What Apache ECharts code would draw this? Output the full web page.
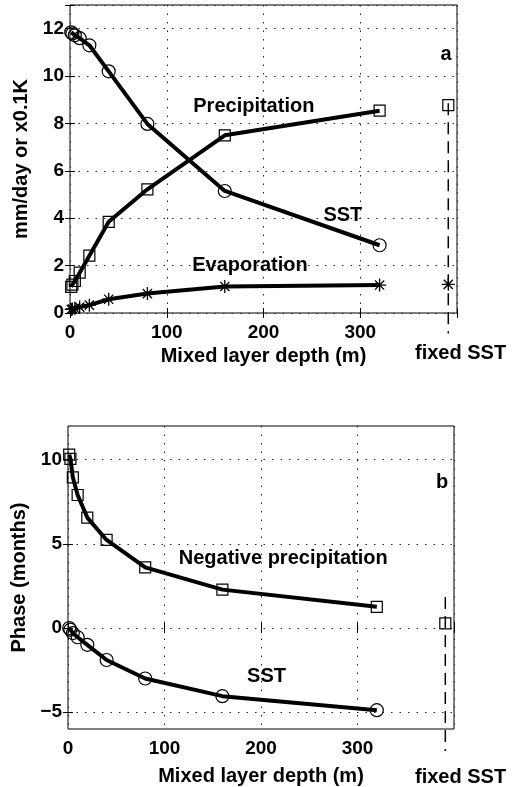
<!DOCTYPE html>
<html><head><meta charset="utf-8">
<script src="https://cdn.jsdelivr.net/npm/echarts@6/dist/echarts.min.js"></script>
<style>html,body{margin:0;padding:0;background:#fff}#c{width:512px;height:787px}</style>
</head><body><div id="c"></div>
<script>
// ---- data ----
const depth = [1.25, 2.5, 5, 10, 20, 40, 80, 160, 320];
const sstAmp = [11.85, 11.8, 11.72, 11.6, 11.3, 10.2, 7.98, 5.15, 2.86];
const precipAmp = [1.1, 1.2, 1.35, 1.7, 2.42, 3.85, 5.22, 7.5, 8.54];
const evapAmp = [0.15, 0.17, 0.2, 0.25, 0.33, 0.58, 0.82, 1.12, 1.18];
const negPrecipPhase = [10.3, 10.05, 8.95, 7.9, 6.56, 5.23, 3.6, 2.28, 1.26];
const sstPhase = [0.0, -0.1, -0.3, -0.55, -1.0, -1.9, -3.0, -4.05, -4.88];
const fixedDepth = 391;
const fixedPrecipAmp = 8.77;
const fixedEvapAmp = 1.21;
const fixedNegPrecipPhase = 0.28;
const fixedLineA = [8.85, -0.86];
const fixedLineB = [1.84, -7.3];
const xTickLabels = [0, 100, 200, 300];
const yTicksB = [-5, 0, 5, 10];
const annotationsA = [[190, 8.7, 'Precipitation'], [282, 4.13, 'SST'], [186, 2.02, 'Evaporation'], [388.6, 10.9, 'a']];
const annotationsB = [[223, 4.15, 'Negative precipitation'], [205.7, -2.9, 'SST'], [387.6, 8.65, 'b']];

// ---- styles ----
const FONT = "'Liberation Sans', Arial, Helvetica, sans-serif";
const pairs = (xs, ys) => xs.map((x, i) => [x, ys[i]]);
const STAR = 'path://M-1,-10 L1,-10 L1,10 L-1,10 Z M-10,-1 L10,-1 L10,1 L-10,1 Z M-6.36,-7.78 L7.78,6.36 L6.36,7.78 L-7.78,-6.36 Z M-7.78,6.36 L6.36,-7.78 L7.78,-6.36 L-6.36,7.78 Z';
const dotted = { show: true, lineStyle: { type: [1.5, 7], color: '#222', width: 1 } };
const tickIn = { show: true, inside: true, length: 5, lineStyle: { color: '#000', width: 1 } };
const labelStyle = { color: '#000', fontFamily: FONT, fontWeight: 'bold', fontSize: 19 };
const nameStyle = { color: '#000', fontFamily: FONT, fontWeight: 'bold', fontSize: 20 };
const minus = v => String(v).replace('-', '\u2212');

function xAxes(gridIndex, gap) {
  return [{
    type: 'value', gridIndex, min: 0, max: 400, interval: 100, position: 'bottom',
    axisLine: { show: false }, axisTick: tickIn, splitLine: dotted,
    axisLabel: Object.assign({ margin: 10, formatter: v => (xTickLabels.indexOf(v) >= 0 ? String(v) : '') }, labelStyle),
    name: 'Mixed layer depth (m)', nameLocation: 'middle', nameGap: gap, nameTextStyle: nameStyle
  }, {
    type: 'value', gridIndex, min: 0, max: 400, interval: 100, position: 'top',
    axisLine: { show: false }, axisTick: tickIn, splitLine: { show: false }, axisLabel: { show: false }
  }];
}
const lineSeries = (name, xi, yi, data, symbol, size, fill) => ({
  name, type: 'line', xAxisIndex: xi, yAxisIndex: yi, data,
  symbol, symbolSize: size, showAllSymbol: true, symbolKeepAspect: true,
  lineStyle: { color: '#000', width: 4 },
  itemStyle: { color: fill, borderColor: '#000', borderWidth: fill === '#000' ? 0 : 1.2 },
  z: 3, animation: false
});
const pointSeries = (xi, yi, data, symbol, size, fill) => ({
  type: 'scatter', xAxisIndex: xi, yAxisIndex: yi, data, symbol, symbolSize: size, symbolKeepAspect: true,
  itemStyle: { color: fill, borderColor: '#000', borderWidth: fill === '#000' ? 0 : 1.2, opacity: 1 },
  z: 4, animation: false
});
const dashSeries = (xi, yi, ys) => ({
  type: 'line', xAxisIndex: xi, yAxisIndex: yi, data: ys.map(y => [fixedDepth, y]),
  symbol: 'none', clip: false, lineStyle: { color: '#000', width: 1.5, type: [12, 7] }, z: 2, animation: false
});
const annSeries = (xi, yi, data) => ({
  type: 'scatter', xAxisIndex: xi, yAxisIndex: yi, data, symbolSize: 0, silent: true,
  itemStyle: { color: '#000', opacity: 1 },
  label: Object.assign({ show: true, position: 'inside', formatter: p => p.value[2],
    textBorderWidth: 0, textBorderColor: 'transparent', textShadowBlur: 0, opacity: 1 }, nameStyle),
  z: 5, animation: false
});

const option = {
  backgroundColor: '#fff',
  animation: false,
  grid: [
    { left: 70, top: 5, width: 387, height: 308, show: true, borderColor: '#000', borderWidth: 1, backgroundColor: 'transparent' },
    { left: 68, top: 426, width: 386, height: 304, show: true, borderColor: '#000', borderWidth: 1, backgroundColor: 'transparent' }
  ],
  xAxis: [...xAxes(0, 33), ...xAxes(1, 37)],
  yAxis: [
    { type: 'value', gridIndex: 0, min: 0, max: 13, interval: 2, position: 'left',
      axisLine: { show: false }, axisTick: tickIn, splitLine: dotted,
      axisLabel: Object.assign({ margin: 6, formatter: v => (v % 2 === 0 ? String(v) : '') }, labelStyle),
      name: 'mm/day or x0.1K', nameLocation: 'middle', nameGap: 33, nameTextStyle: nameStyle },
    { type: 'value', gridIndex: 0, min: 0, max: 13, interval: 2, position: 'right',
      axisLine: { show: false }, axisTick: tickIn, splitLine: { show: false }, axisLabel: { show: false } },
    { type: 'value', gridIndex: 1, min: -6, max: 12, position: 'left',
      axisLine: { show: false }, axisTick: Object.assign({ customValues: yTicksB }, tickIn), splitLine: dotted,
      axisLabel: Object.assign({ margin: 6, customValues: yTicksB, formatter: minus }, labelStyle),
      name: 'Phase (months)', nameLocation: 'middle', nameGap: 34, nameTextStyle: nameStyle },
    { type: 'value', gridIndex: 1, min: -6, max: 12, position: 'right',
      axisLine: { show: false }, axisTick: Object.assign({ customValues: yTicksB }, tickIn), splitLine: { show: false }, axisLabel: { show: false } }
  ],
  series: [
    dashSeries(0, 0, fixedLineA),
    lineSeries('SST amplitude', 0, 0, pairs(depth, sstAmp), 'circle', 13, 'rgba(255,255,255,0)'),
    lineSeries('Precipitation amplitude', 0, 0, pairs(depth, precipAmp), 'rect', 11, 'rgba(255,255,255,0)'),
    lineSeries('Evaporation amplitude', 0, 0, pairs(depth, evapAmp), STAR, 13, '#000'),
    pointSeries(0, 0, [[fixedDepth, fixedPrecipAmp]], 'rect', 11, 'rgba(255,255,255,0)'),
    pointSeries(0, 0, [[fixedDepth, fixedEvapAmp]], STAR, 13, '#000'),
    annSeries(0, 0, annotationsA),
    dashSeries(2, 2, fixedLineB),
    lineSeries('Negative precipitation phase', 2, 2, pairs(depth, negPrecipPhase), 'rect', 11, 'rgba(255,255,255,0)'),
    lineSeries('SST phase', 2, 2, pairs(depth, sstPhase), 'circle', 13, 'rgba(255,255,255,0)'),
    pointSeries(2, 2, [[fixedDepth, fixedNegPrecipPhase]], 'rect', 11, 'rgba(255,255,255,0)'),
    annSeries(2, 2, annotationsB)
  ],
  graphic: [
    { type: 'text', left: 415, top: 343, style: { text: 'fixed SST', fill: '#000', font: 'bold 20px ' + FONT } },
    { type: 'text', left: 415, top: 767, style: { text: 'fixed SST', fill: '#000', font: 'bold 20px ' + FONT } }
  ]
};
const chart = echarts.init(document.getElementById('c'), null, { renderer: 'canvas' });
chart.setOption(option);
</script>
</body></html>
